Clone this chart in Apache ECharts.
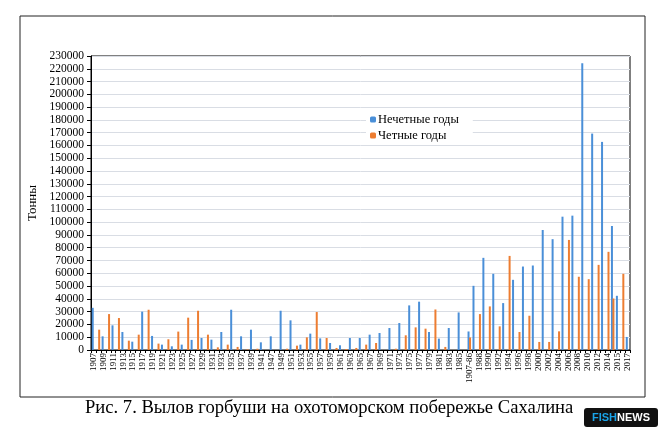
<!DOCTYPE html>
<html>
<head>
<meta charset="utf-8">
<script src="https://cdn.jsdelivr.net/npm/echarts@6/dist/echarts.min.js"></script>
<style>
  html, body { margin: 0; padding: 0; background: #fff; }
  #chart { width: 668px; height: 437px; }
</style>
</head>
<body>
<div id="chart"></div>
<script>
// categories as in the source table (1942-45 missing, averages inserted)
var categories = [
  '1907','1908','1909','1910','1911','1912','1913','1914','1915','1916',
  '1917','1918','1919','1920','1921','1922','1923','1924','1925','1926',
  '1927','1928','1929','1930','1931','1932','1933','1934','1935','1936',
  '1937','1938','1939','1940','1941','1946','1947','1948','1949','1950',
  '1951','1952','1953','1954','1955','1956','1957','1958','1959','1960',
  '1961','1962','1963','1964','1965','1966','1967','1968','1969','1970',
  '1971','1972','1973','1974','1975','1976','1977','1978','1979','1980',
  '1981','1982','1983','1984','1985','1986','1907-86','1987','1988','1989',
  '1990','1991','1992','1993','1994','1995','1996','1997','1998','1999',
  '2000','2001','2002','2003','2004','2005','2006','2007','2008','2009',
  '2010','2011','2012','2013','2014','1987-2014','2015','2016','2017'
];

// Нечетные годы
var oddYears = [
  33000, null, 10700, null, 19300, null, 14100, null, 6500, null,
  30000, null, 11000, null, 4200, null, 2900, null, 4200, null,
  7900, null, 9400, null, 8100, null, 14100, null, 31500, null,
  10700, null, 15900, null, 6000, null, 10700, null, 30700, null,
  23200, null, 4200, null, 12800, null, 9100, null, 5500, null,
  3700, null, 9400, null, 9400, null, 12000, null, 13300, null,
  17200, null, 21100, null, 34900, null, 37800, null, 14100, null,
  8900, null, 17200, null, 29400, null, 14500, 50200, null, 72100,
  null, 59600, null, 36700, null, 54900, null, 65300, null, 66100,
  null, 93900, null, 86700, null, 104300, null, 105100, null, 224400,
  null, 169300, null, 162800, null, 97000, 42400, null, 10200
];

// Четные годы
var evenYears = [
  null, 15900, null, 28100, null, 25000, null, 7300, null, 12000,
  null, 31500, null, 5000, null, 8400, null, 14400, null, 25300,
  null, 30700, null, 12000, null, 2100, null, 4200, null, 2400,
  null, 500, null, 1000, null, null, null, null, null, 1000,
  null, 3400, null, 9900, null, 29700, null, 9400, null, 1600,
  null, 800, null, 1600, null, 4200, null, 5500, null, null,
  null, 1000, null, 11500, null, 17700, null, 16700, null, 31700,
  null, 2400, null, null, null, null, 9800, null, 28100, null,
  34100, null, 18500, null, 73600, null, 14100, null, 26800, null,
  6300, null, 6300, null, 14600, null, 86100, null, 57300, null,
  55400, null, 66600, null, 76800, 40300, null, 59600, null
];

var SERIF = "'Liberation Serif', 'DejaVu Serif', serif";

var chart = echarts.init(document.getElementById('chart'));
var option = {
  animation: false,
  backgroundColor: '#fff',
  grid: {
    left: 91, right: 38, top: 56, bottom: 87,
    show: true, borderColor: '#000', borderWidth: 1
  },
  legend: {
    orient: 'vertical',
    left: 366, top: 110,
    itemWidth: 6, itemHeight: 6, itemGap: 3,
    padding: [3, 14, 3, 4],
    backgroundColor: '#fff',
    textStyle: { fontFamily: SERIF, fontSize: 12.5, color: '#000', padding: [0, 0, 0, -3] },
    data: ['Нечетные годы', 'Четные годы']
  },
  xAxis: {
    type: 'category',
    data: categories,
    axisLine: { lineStyle: { color: '#000', width: 1 } },
    axisTick: { show: true, length: 3, interval: 0, lineStyle: { color: '#000' } },
    axisLabel: {
      interval: 1, rotate: 90, margin: 3,
      fontFamily: SERIF, fontSize: 9, color: '#000'
    },
    splitLine: { show: false }
  },
  yAxis: {
    type: 'value',
    min: 0, max: 230000, interval: 10000,
    name: 'Тонны',
    nameLocation: 'middle', nameRotate: 90, nameGap: 45,
    nameTextStyle: { fontFamily: SERIF, fontSize: 13, color: '#000' },
    axisLine: { show: true, lineStyle: { color: '#000', width: 1 } },
    axisTick: { show: true, inside: false, length: 4, lineStyle: { color: '#000' } },
    axisLabel: {
      margin: 7, fontFamily: SERIF, fontSize: 11.5, color: '#000',
      formatter: function (v) { return String(v); }
    },
    splitLine: { lineStyle: { color: '#d9dde4', width: 1 } }
  },
  series: [
    {
      name: 'Нечетные годы', type: 'bar', data: oddYears,
      barWidth: 2, barGap: '-25%',
      itemStyle: { color: '#4a8fd8' }
    },
    {
      name: 'Четные годы', type: 'bar', data: evenYears,
      barWidth: 2, barGap: '-25%',
      itemStyle: { color: '#ed7d31' }
    }
  ],
  graphic: [
    {
      type: 'rect', silent: true, z: -1,
      shape: { x: 20, y: 16, width: 625, height: 381 },
      style: { fill: null, stroke: '#222', lineWidth: 1 }
    },
    {
      type: 'text', left: 85, top: 399,
      style: {
        text: 'Рис. 7. Вылов горбуши на охотоморском побережье Сахалина',
        font: '18.6px ' + SERIF, fill: '#000'
      }
    },
    {
      type: 'group', left: 584, top: 408,
      children: [
        {
          type: 'rect',
          shape: { x: 0, y: 0, width: 74, height: 19, r: 3 },
          style: { fill: '#111' }
        },
        {
          type: 'text', x: 37, y: 10,
          style: {
            text: '{a|FISH}{b|NEWS}',
            align: 'center', verticalAlign: 'middle',
            rich: {
              a: { fontFamily: "'Liberation Sans', Arial, sans-serif", fontWeight: 'bold', fontSize: 11, fill: '#1aa3e8' },
              b: { fontFamily: "'Liberation Sans', Arial, sans-serif", fontWeight: 'bold', fontSize: 11, fill: '#fff' }
            }
          }
        }
      ]
    }
  ]
};
chart.setOption(option);
</script>
</body>
</html>
